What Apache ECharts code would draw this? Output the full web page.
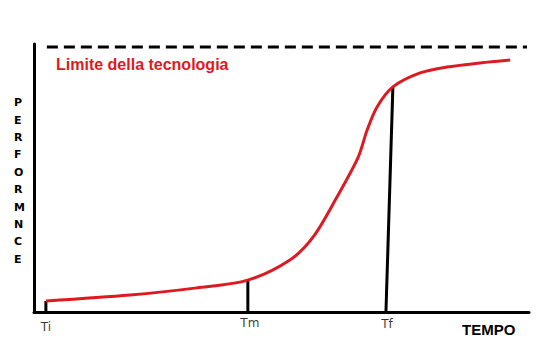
<!DOCTYPE html>
<html>
<head>
<meta charset="utf-8">
<script src="https://cdn.jsdelivr.net/npm/echarts@6/dist/echarts.min.js"></script>
<style>html,body{margin:0;padding:0;background:#fff;}#c{width:554px;height:348px;}</style>
</head>
<body>
<div id="c"></div>
<script>
// S-curve of technology performance over time (x: time 0-100, y: performance 0-100)
var curveTime = [2.4, 19.4, 32.9, 43.2, 51.7, 56.4, 61.2, 65.5, 67.3, 69.3, 72.5, 78.0, 83.4, 90.1, 96.2];
var curvePerf = [4.1, 6.3, 9.0, 11.9, 19.4, 28.0, 42.9, 57.8, 67.9, 76.5, 84.0, 89.2, 91.4, 92.9, 94.0];
// technology limit (dashed)
var limitTime = [2.6, 99.6];
var limitPerf = [98.9, 98.9];
// time markers
var markerNames = ['Ti', 'Tm', 'Tf'];
var markerBottomTime = [2.4, 43.2, 71.1];
var markerTopTime = [2.4, 43.2, 72.5];
var markerTopPerf = [4.1, 11.9, 84.0];
var titleText = 'Limite della tecnologia';
var yName = 'PERFORMNCE';
var xName = 'TEMPO';

var red = '#dd1a22';
var series = [];
series.push({
  type: 'line', data: limitTime.map(function (t, i) { return [t, limitPerf[i]]; }),
  symbol: 'none', lineStyle: { color: '#000', width: 3, type: [11, 6] }, silent: true
});
for (var i = 0; i < markerNames.length; i++) {
  series.push({
    type: 'line', symbol: 'none', silent: true,
    data: [[markerBottomTime[i], 0], [markerTopTime[i], markerTopPerf[i]]],
    lineStyle: { color: '#000', width: 3 }
  });
}
series.push({
  type: 'line', smooth: 0.3, symbol: 'none',
  data: curveTime.map(function (t, i) { return [t, curvePerf[i]]; }),
  lineStyle: { color: red, width: 3 }, z: 5
});
var labelOffsets = [15, 11, 12];
series.push({
  type: 'scatter', symbolSize: 0, silent: true,
  data: markerNames.map(function (n, i) {
    return { value: [markerBottomTime[i], 0, n], label: { offset: [i === 2 ? 1 : (i === 1 ? 2 : 0), labelOffsets[i]] } };
  }),
  label: {
    show: true, position: 'inside', formatter: function (p) { return p.value[2]; },
    color: '#000', fontSize: 12, fontFamily: 'DejaVu Sans'
  }
});

var chart = echarts.init(document.getElementById('c'), null, { renderer: 'svg' });
chart.setOption({
  animation: false,
  backgroundColor: '#fff',
  title: {
    text: titleText, left: 51, top: 51,
    textStyle: { color: red, fontSize: 16, fontWeight: 'bold', fontFamily: 'Liberation Sans' }
  },
  grid: { left: 34, right: 25, top: 44, bottom: 36 },
  xAxis: {
    type: 'value', min: 0, max: 100,
    axisLine: { show: true, onZero: false, lineStyle: { color: '#000', width: 3 } },
    axisTick: { show: false }, axisLabel: { show: false }, splitLine: { show: false }
  },
  yAxis: {
    type: 'value', min: 0, max: 100,
    axisLine: { show: true, onZero: false, lineStyle: { color: '#000', width: 3 } },
    axisTick: { show: false }, axisLabel: { show: false }, splitLine: { show: false }
  },
  graphic: [
    { type: 'text', left: 14, top: 94,
      style: { text: yName.split('').join('\n'), fill: '#000', font: 'bold 11px "DejaVu Sans"', lineHeight: 17.4, align: 'center' } },
    { type: 'text', left: 462, top: 322,
      style: { text: xName, fill: '#000', font: 'bold 15px "Liberation Sans"' } }
  ],
  series: series
});
</script>
</body>
</html>
